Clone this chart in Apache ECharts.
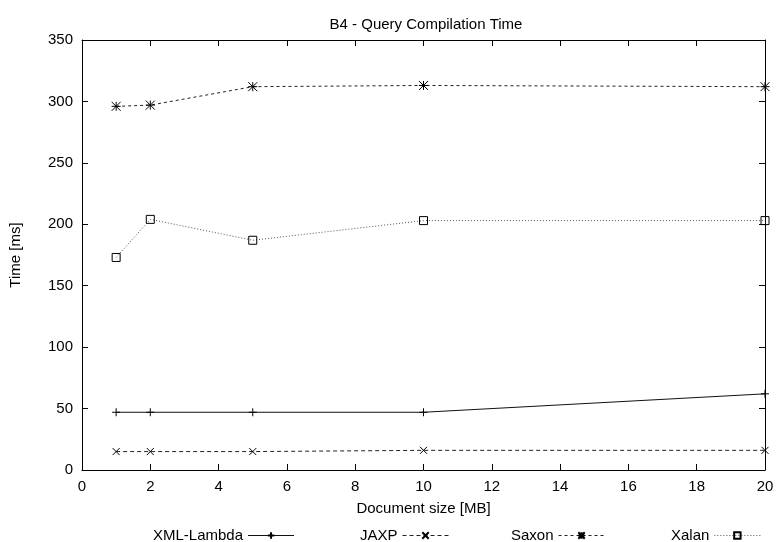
<!DOCTYPE html>
<html>
<head>
<meta charset="utf-8">
<script src="https://cdn.jsdelivr.net/npm/echarts@6/dist/echarts.min.js"></script>
<style>
  html, body { margin: 0; padding: 0; background: #fff; }
  #chart { width: 777px; height: 542px; }
</style>
</head>
<body>
<div id="chart"></div>
<script>
// document size in MB
const sizes = [1, 2, 5, 10, 20]
const xmlLambda = [47, 47, 47, 47, 62]
const jaxp = [15, 15, 15, 16, 16]
const saxon = [296, 297, 312, 313, 312]
const xalan = [173, 204, 187, 203, 203]

const seriesNames = ['XML-Lambda', 'JAXP', 'Saxon', 'Xalan']
const legendLeft = [148, 355, 506, 666]

const plusPath = 'path://M0,5L10,5M5,0L5,10'
const crossPath = 'path://M0,0L10,10M10,0L0,10'
const starPath = 'path://M0,5L10,5M5,0L5,10M0,0L10,10M10,0L0,10'
const boxPath = 'path://M0,0L10,0L10,10L0,10Z'

const font = 'Liberation Sans, Arial, Helvetica, sans-serif'

const chart = echarts.init(document.getElementById('chart'))

function pairs(vals) {
  return sizes.map((x, i) => [x, vals[i]])
}

function mkSeries(name, vals, symbol, size, lineType, lineColor, fill) {
  return {
    name: name,
    type: 'line',
    data: pairs(vals),
    symbol: symbol,
    symbolSize: size,
    showSymbol: true,
    animation: false,
    itemStyle: { color: fill, borderColor: '#000', borderWidth: 1 },
    lineStyle: { color: lineColor, width: 1, type: lineType }
  }
}

const axisCommon = {
  type: 'value',
  axisLine: { show: true, onZero: false, lineStyle: { color: '#000', width: 1 } },
  axisTick: { show: true, inside: true, length: 6, lineStyle: { color: '#000' } },
  splitLine: { show: false }
}

const options = {
  backgroundColor: '#fff',
  title: {
    text: 'B4 - Query Compilation Time',
    left: 421,
    textAlign: 'center',
    top: 12,
    textStyle: { fontFamily: font, fontSize: 15, fontWeight: 'normal', color: '#000' }
  },
  legend: seriesNames.map((n, i) => ({
    data: [n],
    left: legendLeft[i],
    top: 523,
    align: 'right',
    itemWidth: 46,
    itemHeight: 8,
    lineStyle: { width: 1 },
    textStyle: { fontFamily: font, fontSize: 15, color: '#000' }
  })),
  grid: { left: 79, right: 12, top: 40, bottom: 72 },
  xAxis: [
    Object.assign({}, axisCommon, {
      min: 0, max: 20, interval: 2,
      name: 'Document size [MB]',
      nameLocation: 'middle',
      nameGap: 31,
      nameTextStyle: { fontFamily: font, fontSize: 15, color: '#000' },
      axisLabel: { fontFamily: font, fontSize: 15, color: '#000', margin: 9 }
    }),
    Object.assign({}, axisCommon, {
      position: 'top', min: 0, max: 20, interval: 2,
      axisLabel: { show: false }
    })
  ],
  yAxis: [
    Object.assign({}, axisCommon, {
      position: 'left', min: 0, max: 350, interval: 50,
      name: 'Time [ms]',
      nameLocation: 'middle',
      nameGap: 59,
      nameTextStyle: { fontFamily: font, fontSize: 15, color: '#000' },
      axisLabel: { fontFamily: font, fontSize: 15, color: '#000', margin: 9 }
    }),
    Object.assign({}, axisCommon, {
      position: 'right', min: 0, max: 350, interval: 50,
      axisLabel: { show: false }
    })
  ],
  series: [
    mkSeries('XML-Lambda', xmlLambda, plusPath, 8, 'solid', '#111', '#000'),
    mkSeries('JAXP', jaxp, crossPath, 7, [4, 3], '#222', '#000'),
    mkSeries('Saxon', saxon, starPath, 9, [3, 3], '#222', '#000'),
    mkSeries('Xalan', xalan, boxPath, 8, [1, 2], '#555', 'rgba(0,0,0,0)')
  ]
}
chart.setOption(options)
</script>
</body>
</html>
